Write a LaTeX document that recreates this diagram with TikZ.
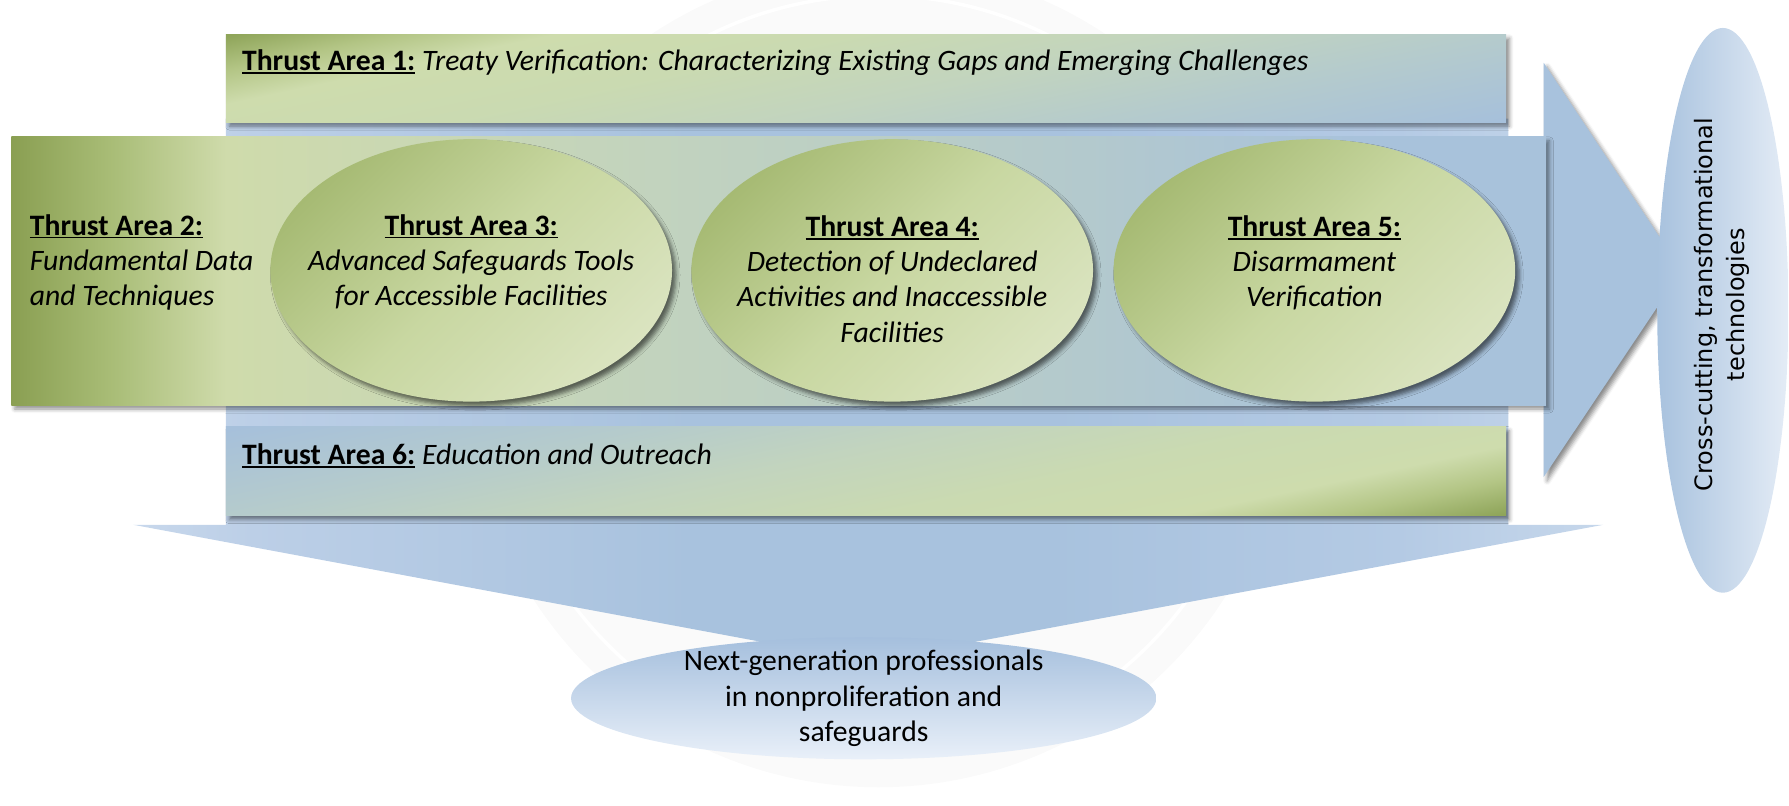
\documentclass[tikz,border=0pt]{standalone}
\usepackage{fontspec}
\setmainfont{Carlito}
\newfontfamily\crossfont{DejaVu Sans}
\usetikzlibrary{shapes.geometric,shadows.blur}

% palette
\definecolor{olv}{HTML}{8A9F52}
\definecolor{olvB}{HTML}{8FA55A}
\definecolor{bandB}{HTML}{A9BD77}
\definecolor{bandC}{HTML}{CFDBAB}
\definecolor{bandD}{HTML}{C2D3BE}
\definecolor{bandE}{HTML}{B3C9CD}
\definecolor{bandF}{HTML}{A8C2DB}
\definecolor{taB}{HTML}{B3C585}
\definecolor{boxL}{HTML}{CEDCAD}
\definecolor{taD}{HTML}{CADAB1}
\definecolor{boxM}{HTML}{C2D4BE}
\definecolor{boxN}{HTML}{B5CBCC}
\definecolor{boxB}{HTML}{A6C0DB}
\definecolor{ellA}{HTML}{A0B56B}
\definecolor{ellB}{HTML}{C8D7A1}
\definecolor{ellC}{HTML}{DCE5C3}
\definecolor{bgA}{HTML}{C8D8EC}
\definecolor{bgB}{HTML}{BCCFE7}
\definecolor{bgC}{HTML}{A8C2DE}
\definecolor{bgD}{HTML}{B4CAE4}
\definecolor{bgE}{HTML}{C6D7EB}
\definecolor{headblue}{HTML}{A8C2DD}
\definecolor{crossL}{HTML}{A8C2DE}
\definecolor{crossR}{HTML}{E4ECF6}
\definecolor{nextT}{HTML}{A5BFDD}
\definecolor{nextB}{HTML}{E9F0F9}
\definecolor{sealgray}{HTML}{FAFAFA}

% gradients
\pgfdeclarehorizontalshading{bandshade}{100bp}{color(0bp)=(olv); color(25bp)=(olv); color(28.3bp)=(bandB); color(32bp)=(bandC); color(46bp)=(bandD); color(60bp)=(bandE); color(69bp)=(bandF); color(100bp)=(bandF)}
% bar gradient, laid on a 1130pt square clipped to the bar
\pgfdeclarehorizontalshading{tashade}{100bp}{color(0bp)=(olv); color(43.2bp)=(olvB); color(44.5bp)=(taB); color(45.8bp)=(boxL); color(48.2bp)=(taD); color(50.9bp)=(boxM); color(53.5bp)=(boxN); color(56.8bp)=(boxB); color(100bp)=(boxB)}
\pgfdeclarehorizontalshading{ellshade}{100bp}{color(0bp)=(ellA); color(20bp)=(ellA); color(50bp)=(ellB); color(78bp)=(ellC); color(100bp)=(ellC)}
\pgfdeclarehorizontalshading{bgshade}{100bp}{color(0bp)=(bgA); color(25bp)=(bgA); color(29bp)=(bgB); color(44bp)=(bgC); color(56bp)=(bgC); color(68bp)=(bgD); color(75bp)=(bgE); color(100bp)=(bgE)}

% bold, underlined heading of a thrust area
\newcommand{\taul}[1]{\setbox0=\hbox{#1}\rlap{\rule[-3pt]{\wd0}{1.7pt}}\box0\relax}
\newcommand{\tahead}[1]{\taul{\textbf{Thrust Area #1:}}}

\tikzset{
  softshadow/.style={blur shadow={shadow xshift=3pt, shadow yshift=-3.5pt, shadow blur radius=3.5pt, shadow opacity=45}},
  ellshadow/.style={blur shadow={shadow xshift=3.5pt, shadow yshift=-4pt, shadow blur radius=3.5pt, shadow opacity=55}},
  greenell/.style={ellipse, minimum width=352pt, minimum height=230pt, inner sep=0pt,
    shading=ellshade, shading angle=-45, ellshadow},
  label/.style={font=\fontsize{26}{31}\selectfont, inner sep=0pt, text=black},
}

\begin{document}
\begin{tikzpicture}[x=1pt,y=-1pt]
\useasboundingbox (0,0) rectangle (1568,706);

% faint seal in the background
\fill[sealgray] (770,330) circle (360);
\draw[white, line width=3pt] (770,330) circle (334);

% blue stem and downward arrow
\shade[shading=bgshade] (198,104) -- (1322,104) -- (1322,460) -- (1405,460)
  -- (761,580) -- (117,460) -- (198,460) -- cycle;

% head of the rightward arrow
\fill[headblue, softshadow] (1353,55) -- (1474,237) -- (1353,418) -- cycle;

% main band
\shade[shading=bandshade, softshadow] (10,120) rectangle (1355,355);

% top bar
\fill[boxB, softshadow] (198,30) rectangle (1320,107);
\begin{scope}
  \clip (198,30) rectangle (1320,107);
  \shade[shading=tashade, shading angle=-78] (194,-496.5) rectangle (1324,633.5);
\end{scope}

% bottom bar
\fill[boxB, softshadow] (198,374) rectangle (1320,452);
\begin{scope}
  \clip (198,374) rectangle (1320,452);
  \shade[shading=tashade, shading angle=102] (194,-152) rectangle (1324,978);
\end{scope}

% three thrust-area ellipses
\node[greenell] (e3) at (413,237) {};
\node[greenell] (e4) at (782,237) {};
\node[greenell] (e5) at (1152,237) {};

% outcome ellipses
\node[ellipse, minimum width=115pt, minimum height=495pt, inner sep=0pt,
  left color=crossL, right color=crossR] (crossell) at (1510,272) {};
\node[ellipse, minimum width=513pt, minimum height=107pt, inner sep=0pt,
  top color=nextT, bottom color=nextB] (nextell) at (757,612) {};

% texts (multi-line blocks are placed by the baseline of their last line)
\node[label, anchor=base west] (ta1) at (212,62)
  {\tahead{1} \textit{Treaty Verification: Characterizing Existing Gaps and Emerging Challenges}};
\node[label, anchor=base west] (ta6) at (212,407)
  {\tahead{6} \textit{Education and Outreach}};
\node[label, anchor=base west, align=left] (ta2) at (26,268)
  {\tahead{2}\\\textit{Fundamental Data}\\\textit{and Techniques}};
\node[label, anchor=base, align=center] (ta3) at (413,268)
  {\tahead{3}\\\textit{Advanced Safeguards Tools}\\\textit{for Accessible Facilities}};
\node[label, anchor=base, align=center] (ta4) at (782,300)
  {\tahead{4}\\\textit{Detection of Undeclared}\\\textit{Activities and Inaccessible}\\\textit{Facilities}};
\node[label, anchor=base, align=center] (ta5) at (1152,269)
  {\tahead{5}\\\textit{Disarmament}\\\textit{Verification}};
\node[label, anchor=base, align=center] (nextgen) at (757,650)
  {Next-generation professionals\\in nonproliferation and\\safeguards};
\node[font=\crossfont\fontsize{21}{28}\selectfont, inner sep=0pt, rotate=90, align=center]
  (cross) at (1509,267) {Cross-cutting, transformational\\technologies};
\end{tikzpicture}
\end{document}
